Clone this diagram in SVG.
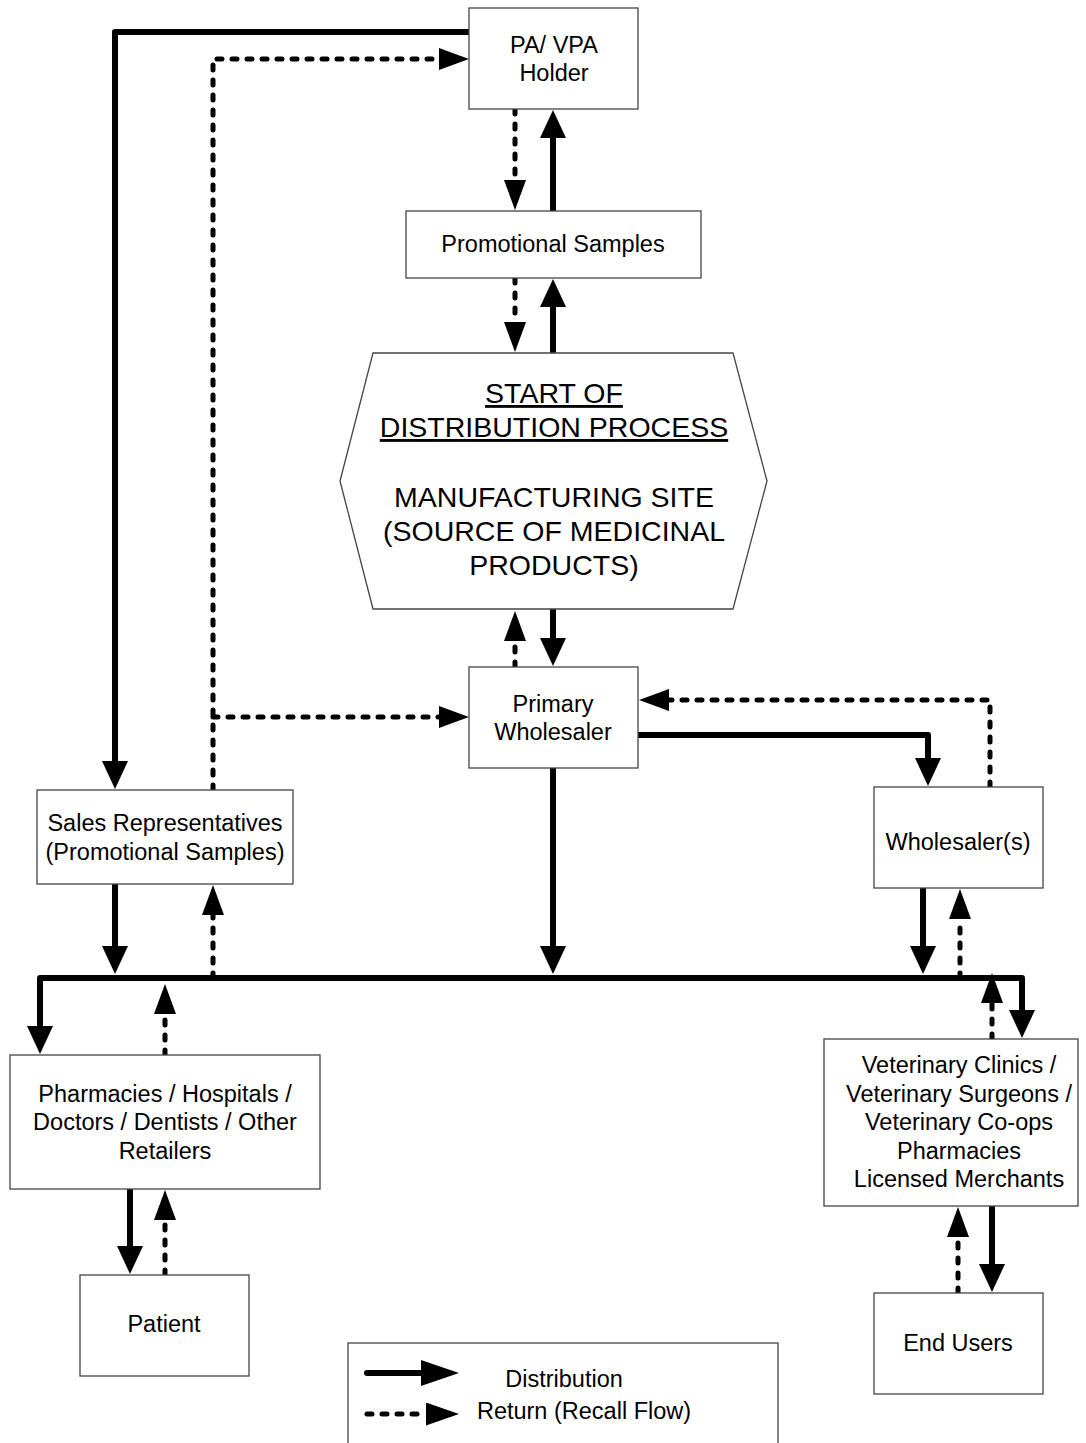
<svg xmlns="http://www.w3.org/2000/svg" width="1086" height="1443" viewBox="0 0 1086 1443">
<style>
.box{fill:#fff;stroke:#444;stroke-width:1.3}
.t{font-family:"Liberation Sans",Arial,sans-serif;font-size:23.5px;fill:#000;text-anchor:middle}
.h{font-family:"Liberation Sans",Arial,sans-serif;font-size:28.5px;fill:#000;text-anchor:middle}
.u{text-decoration:underline}
.s{fill:none;stroke:#000;stroke-width:6;stroke-linecap:round;stroke-linejoin:round;marker-end:url(#as)}
.d{fill:none;stroke:#000;stroke-width:5;stroke-linecap:round;stroke-linejoin:round;stroke-dasharray:5 10;marker-end:url(#ad)}
.ls{fill:none;stroke:#000;stroke-width:6;stroke-linecap:round;marker-end:url(#als)}
.ld{fill:none;stroke:#000;stroke-width:5;stroke-linecap:round;stroke-dasharray:5 10;marker-end:url(#ald)}
</style>
<defs>
<marker id="as" markerUnits="userSpaceOnUse" markerWidth="28" markerHeight="26" viewBox="0 0 28 26" refX="1" refY="13" orient="auto"><path d="M0,0 L28,13 L0,26 z" fill="#000"/></marker>
<marker id="ad" markerUnits="userSpaceOnUse" markerWidth="30" markerHeight="22" viewBox="0 0 30 22" refX="1" refY="11" orient="auto"><path d="M0,0 L30,11 L0,22 z" fill="#000"/></marker>
<marker id="als" markerUnits="userSpaceOnUse" markerWidth="38" markerHeight="26" viewBox="0 0 38 26" refX="1" refY="13" orient="auto"><path d="M0,0 L38,13 L0,26 z" fill="#000"/></marker>
<marker id="ald" markerUnits="userSpaceOnUse" markerWidth="33" markerHeight="23" viewBox="0 0 33 23" refX="1" refY="11.5" orient="auto"><path d="M0,0 L33,11.5 L0,23 z" fill="#000"/></marker>
</defs>
<rect width="1086" height="1443" fill="#fff"/>
<g id="connectors">
<path class="s" d="M469,32 H115 V762"/>
<path class="d" d="M213,790 V59 H440"/>
<path class="d" d="M213,717 H440"/>
<path class="d" d="M515,109 V181"/>
<path class="s" d="M553,211 V137"/>
<path class="d" d="M515,278 V323"/>
<path class="s" d="M553,352 V306"/>
<path class="d" d="M515,667 V640"/>
<path class="s" d="M553,609 V639"/>
<path class="s" d="M638,735 H928 V759"/>
<path class="d" d="M990,787 V700 H668"/>
<path class="s" d="M553,768 V947"/>
<path class="s" d="M115,884 V947"/>
<path class="d" d="M213,978 V914"/>
<path class="s" d="M553,978 H40 V1027"/>
<path class="s" d="M553,978 H1022 V1011"/>
<path class="s" d="M923,888 V947"/>
<path class="d" d="M960,978 V918"/>
<path class="d" d="M992,1039 V1002"/>
<path class="d" d="M165,1055 V1013"/>
<path class="s" d="M130,1189 V1247"/>
<path class="d" d="M165,1275 V1219"/>
<path class="s" d="M992,1206 V1265"/>
<path class="d" d="M958,1293 V1236"/>
</g>
<g id="pa-holder"><rect class="box" x="469" y="8" width="169" height="101"/><text class="t" x="554" y="53">PA/ VPA</text><text class="t" x="554" y="81">Holder</text></g>
<g id="promo-samples"><rect class="box" x="406" y="211" width="295" height="67"/><text class="t" x="553" y="252">Promotional Samples</text></g>
<g id="manufacturing"><polygon class="box" points="373,353 733,353 767,481 733,609 373,609 340,481"/>
<text class="h u" x="554" y="403">START OF</text>
<text class="h u" x="554" y="437">DISTRIBUTION PROCESS</text>
<text class="h" x="554" y="507">MANUFACTURING SITE</text>
<text class="h" x="554" y="541">(SOURCE OF MEDICINAL</text>
<text class="h" x="554" y="575">PRODUCTS)</text></g>
<g id="primary-wholesaler"><rect class="box" x="469" y="667" width="169" height="101"/><text class="t" x="553" y="712">Primary</text><text class="t" x="553" y="740">Wholesaler</text></g>
<g id="wholesalers"><rect class="box" x="874" y="787" width="169" height="101"/><text class="t" x="958" y="850">Wholesaler(s)</text></g>
<g id="sales-reps"><rect class="box" x="37" y="790" width="256" height="94"/><text class="t" x="165" y="831">Sales Representatives</text><text class="t" x="165" y="860">(Promotional Samples)</text></g>
<g id="pharmacies"><rect class="box" x="10" y="1055" width="310" height="134"/><text class="t" x="165" y="1102">Pharmacies / Hospitals /</text><text class="t" x="165" y="1130">Doctors / Dentists / Other</text><text class="t" x="165" y="1159">Retailers</text></g>
<g id="veterinary"><rect class="box" x="824" y="1039" width="254" height="167"/><text class="t" x="959" y="1073">Veterinary Clinics /</text><text class="t" x="959" y="1102">Veterinary Surgeons /</text><text class="t" x="959" y="1130">Veterinary Co-ops</text><text class="t" x="959" y="1159">Pharmacies</text><text class="t" x="959" y="1187">Licensed Merchants</text></g>
<g id="patient"><rect class="box" x="80" y="1275" width="169" height="101"/><text class="t" x="164" y="1332">Patient</text></g>
<g id="end-users"><rect class="box" x="874" y="1293" width="169" height="101"/><text class="t" x="958" y="1351">End Users</text></g>
<g id="legend"><rect class="box" x="348" y="1343" width="430" height="120"/>
<path class="ls" d="M367,1373 H422"/>
<path class="ld" d="M367,1414 H427"/>
<text class="t" x="564" y="1387">Distribution</text>
<text class="t" x="584" y="1419">Return (Recall Flow)</text></g>
</svg>
